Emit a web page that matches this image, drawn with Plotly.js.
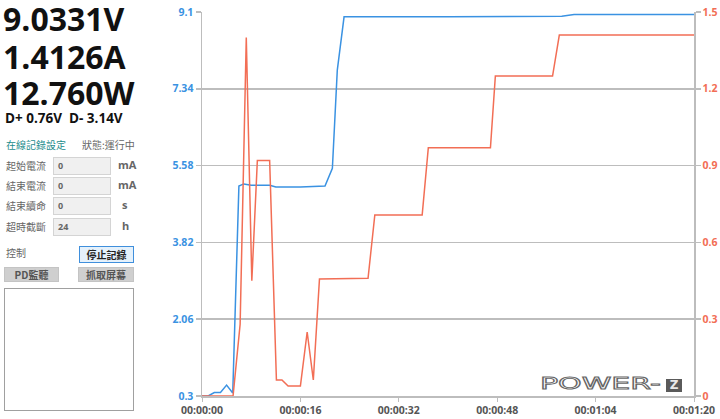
<!DOCTYPE html>
<html><head><meta charset="utf-8">
<script src="https://cdn.plot.ly/plotly-3.0.1.min.js"></script>
<style>
html,body{margin:0;padding:0;background:#fff;width:720px;height:419px;overflow:hidden;font-family:"Noto Sans CJK TC","Open Sans",sans-serif;}
#chart{position:absolute;left:0;top:0;width:720px;height:419px;}
.big{position:absolute;left:3px;font-family:"Open Sans",sans-serif;font-weight:700;font-size:32px;color:#111;line-height:1;}
.abs{position:absolute;white-space:nowrap;line-height:1.1;}
.lbl{font-size:10px;color:#666;}
.inp{position:absolute;left:53px;width:58px;height:18px;background:#f0f0f0;border:1px solid #d4d4d4;font-family:"Open Sans",sans-serif;font-size:9px;font-weight:700;color:#666;line-height:16px;padding-left:4px;box-sizing:border-box;}
.unit{font-family:"Open Sans",sans-serif;font-weight:700;font-size:11px;color:#666;}
.btn{position:absolute;height:15px;font-size:10px;text-align:center;line-height:13px;box-sizing:border-box;color:#555;font-weight:700;}
#logo{position:absolute;left:540px;top:377px;font-family:"DejaVu Sans",sans-serif;font-size:15px;color:transparent;-webkit-text-stroke:0.8px #666;transform:scaleX(2.0);transform-origin:left top;white-space:nowrap;line-height:1;}
#logoz{position:absolute;left:666px;top:379px;width:16px;height:13px;background:#5a5a5a;color:#e8e8e8;font-family:"DejaVu Sans",sans-serif;font-weight:700;font-size:12px;line-height:13px;text-align:center;}
</style></head>
<body>
<div id="chart"></div>
<div class="big" style="top:3px">9.0331V</div>
<div class="big" style="top:41px">1.4126A</div>
<div class="big" style="top:77px">12.760W</div>
<div class="abs" style="left:5px;top:111px;font-family:'Open Sans',sans-serif;font-weight:700;font-size:13.5px;color:#111;">D+ 0.76V&nbsp;&nbsp;D- 3.14V</div>
<div class="abs" style="left:6px;top:139px;font-size:10px;color:#1c8c8c;">在線記錄設定</div>
<div class="abs" style="left:82px;top:139px;font-size:10px;color:#666;">狀態:運行中</div>
<div class="abs lbl" style="left:6px;top:160px;">起始電流</div>
<div class="inp" style="top:157px;">0</div>
<div class="abs unit" style="left:118px;top:159px;">mA</div>
<div class="abs lbl" style="left:6px;top:180px;">結束電流</div>
<div class="inp" style="top:177px;">0</div>
<div class="abs unit" style="left:118px;top:179px;">mA</div>
<div class="abs lbl" style="left:6px;top:200px;">結束續命</div>
<div class="inp" style="top:197px;">0</div>
<div class="abs unit" style="left:122px;top:199px;">s</div>
<div class="abs lbl" style="left:6px;top:221px;">超時截斷</div>
<div class="inp" style="top:218px;">24</div>
<div class="abs unit" style="left:122px;top:220px;">h</div>
<div class="abs lbl" style="left:6px;top:247px;">控制</div>
<div class="btn" style="left:79px;top:246px;width:55px;height:17px;line-height:15px;border:1px solid #3f8fdc;background:#e5f1fb;color:#222;">停止記錄</div>
<div class="btn" style="left:4px;top:267px;width:55px;background:#cfcfcf;border:1px solid #c4c4c4;">PD監聽</div>
<div class="btn" style="left:78px;top:267px;width:56px;background:#cfcfcf;border:1px solid #c4c4c4;">抓取屏幕</div>
<div style="position:absolute;left:4px;top:288px;width:130px;height:123px;border:1.5px solid #a0a0a0;box-sizing:border-box;background:#fff;"></div>
<div id="logo">POWER-</div>
<div id="logoz">Z</div>
<script>
// time in seconds
const vTime = [0, 1, 2, 3, 4, 5, 6, 6.8, 8, 11, 12, 16, 20, 21.2, 22, 23.1, 40, 58.5, 60.5, 80];
const voltage = [0.3, 0.3, 0.38, 0.38, 0.55, 0.37, 5.11, 5.16, 5.13, 5.13, 5.09, 5.09, 5.11, 5.52, 7.77, 8.99, 8.99, 9.0, 9.04, 9.04];
const iTime = [0, 5.05, 6.2, 7.2, 8.1, 9.0, 11.0, 12.1, 13.0, 14.0, 16.0, 17.1, 18.1, 19.1, 27.0, 28.1, 35.8, 36.8, 46.9, 47.7, 57.0, 58.1, 80];
const current = [0, 0, 0.28, 1.40, 0.45, 0.92, 0.92, 0.0625, 0.0625, 0.039, 0.039, 0.25, 0.0625, 0.457, 0.46, 0.707, 0.707, 0.97, 0.97, 1.25, 1.25, 1.41, 1.41];
const xTicks = [0, 16, 32, 48, 64, 80];
const xTickText = ["00:00:00", "00:00:16", "00:00:32", "00:00:48", "00:01:04", "00:01:20"];
const vTicks = [0.3, 2.06, 3.82, 5.58, 7.34, 9.1];
const vTickText = ["0.3", "2.06", "3.82", "5.58", "7.34", "9.1"];
const iTicks = [0, 0.3, 0.6, 0.9, 1.2, 1.5];
const iTickText = ["0", "0.3", "0.6", "0.9", "1.2", "1.5"];

const blue = "#3a92e2", red = "#f26e55", grid = "#bdbdbd";
const traces = [
  {x: iTime, y: current, type: "scatter", mode: "lines", yaxis: "y2", line: {color: red, width: 1.5}, hoverinfo: "skip"},
  {x: vTime, y: voltage, type: "scatter", mode: "lines", yaxis: "y", line: {color: blue, width: 1.5}, hoverinfo: "skip"}
];
const tf = (c) => ({family: "Open Sans, sans-serif", size: 10.5, color: c, weight: 700});
const layout = {
  width: 720, height: 419,
  margin: {l: 202, r: 26, t: 12, b: 23, pad: 0},
  paper_bgcolor: "rgba(0,0,0,0)", plot_bgcolor: "#fff",
  showlegend: false,
  xaxis: {range: [0, 80], tickvals: xTicks, ticktext: xTickText, showgrid: false, zeroline: false,
    showline: true, linecolor: grid, linewidth: 1.5, ticks: "outside", ticklen: 4, tickcolor: grid, tickwidth: 1,
    tickfont: tf("#555"), fixedrange: true},
  yaxis: {range: [0.3, 9.1], tickvals: vTicks, ticktext: vTickText, showgrid: true, gridcolor: grid, gridwidth: 1.5,
    zeroline: false, showline: true, linecolor: grid, linewidth: 1.5, ticks: "outside", ticklen: 5, tickcolor: grid, tickwidth: 1.5,
    tickfont: tf(blue), fixedrange: true},
  yaxis2: {range: [0, 1.5], tickvals: iTicks, ticktext: iTickText, overlaying: "y", side: "right", showgrid: false,
    zeroline: false, showline: true, linecolor: grid, linewidth: 1.5, ticks: "outside", ticklen: 5, tickcolor: grid, tickwidth: 1.5,
    tickfont: tf(red), fixedrange: true}
};
Plotly.newPlot("chart", traces, layout, {displayModeBar: false, staticPlot: true});
</script>
</body></html>
